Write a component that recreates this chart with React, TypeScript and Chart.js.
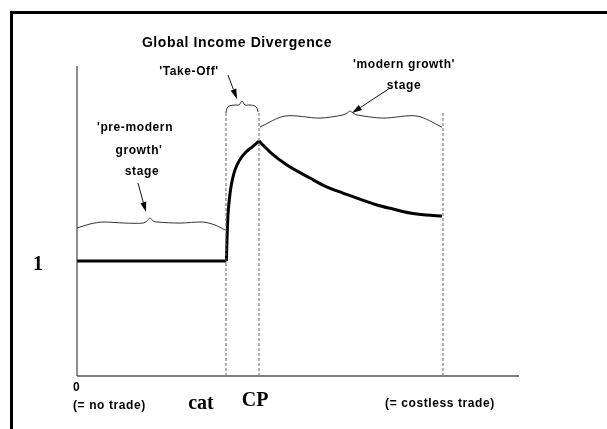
import React, { useEffect, useRef } from "react";
import { Chart, registerables } from "chart.js";

Chart.register(...registerables);

// ---------- data (schematic units: x = trade-cost openness 0..100, y = relative income, 1 = parity) ----------
const TITLE = "Global Income Divergence";
const X_MIN = 0;
const X_MAX = 100;
const Y_MIN = 0;
const Y_MAX = 2.696;

const CAT = 33.71;
const CP = 41.18;
const COSTLESS = 82.8;
const STAGE_TOP = 2.287;

const flatX = [0, 33.8];
const flatY = [1, 1];
const riseX = [33.8, 33.94, 34.16, 34.5, 34.95, 35.52, 36.2, 37.1, 38.24, 39.59, 41.18];
const riseY = [1, 1.183, 1.4, 1.548, 1.67, 1.765, 1.835, 1.896, 1.948, 1.991, 2.043];
const decayX = [41.18, 43.67, 47.51, 52.71, 56.11, 60.18, 67.87, 71.49, 75.34, 78.96, 82.58];
const decayY = [2.043, 1.948, 1.835, 1.722, 1.652, 1.591, 1.487, 1.452, 1.417, 1.4, 1.391];

const preBraceX = [0, 2.94, 5.88, 10.86, 14.93, 15.84, 16.52, 17.19, 18.1, 23.3, 28.51, 31.22, 33.48];
const preBraceY = [1.287, 1.322, 1.339, 1.33, 1.33, 1.348, 1.374, 1.348, 1.339, 1.33, 1.339, 1.313, 1.27];
const takeBraceX = [33.71, 33.94, 34.39, 35.75, 36.65, 37.33, 38.01, 39.14, 40.27, 40.72, 40.95];
const takeBraceY = [2.287, 2.33, 2.348, 2.357, 2.357, 2.391, 2.357, 2.357, 2.348, 2.33, 2.296];
const modBraceX = [41.4, 47.06, 54.98, 60.18, 61.09, 61.76, 62.44, 63.35, 69.23, 76.92, 82.58];
const modBraceY = [2.165, 2.261, 2.243, 2.27, 2.287, 2.304, 2.287, 2.27, 2.243, 2.261, 2.165];

// arrows: [fromX, fromY, toX, toY]
const ARROWS: number[][] = [
  [34.16, 2.617, 36.2, 2.409],
  [70.81, 2.504, 62.22, 2.287],
  [13.8, 1.678, 15.61, 1.426],
];

const TAKE_OFF_LABEL = ["'Take-Off'"];
const MODERN_LABEL = ["'modern growth'", "stage"];
const PRE_LABEL = ["'pre-modern", "growth'", "stage"];
const Y_TICK = "1";
const X_TICKS = ["0", "cat", "CP"];
const X_NOTES = ["(= no trade)", "(= costless trade)"];

const pts = (xs: number[], ys: number[]) => xs.map((x, i) => ({ x, y: ys[i] }));

const SANS = "'Liberation Sans', Arial, sans-serif";
const SERIF = "'Liberation Serif', 'Times New Roman', serif";

const decor = {
  id: "decor",
  beforeDraw(chart: any) {
    const { ctx, width, height } = chart;
    ctx.save();
    ctx.fillStyle = "#ffffff";
    ctx.fillRect(0, 0, width, height);
    ctx.fillStyle = "#000000";
    ctx.fillRect(10, 11, width - 10, 3);
    ctx.fillRect(10, 11, 3, height - 11);
    ctx.restore();
  },
  afterDatasetsDraw(chart: any) {
    const { ctx } = chart;
    const xs = chart.scales.x;
    const ys = chart.scales.y;
    ctx.save();
    // arrows
    ctx.strokeStyle = "#111";
    ctx.fillStyle = "#000";
    ctx.lineWidth = 1;
    for (const a of ARROWS) {
      const x1 = xs.getPixelForValue(a[0]);
      const y1 = ys.getPixelForValue(a[1]);
      const x2 = xs.getPixelForValue(a[2]);
      const y2 = ys.getPixelForValue(a[3]);
      const ang = Math.atan2(y2 - y1, x2 - x1);
      const L = 10;
      const W = 3;
      const bx = x2 - L * Math.cos(ang);
      const by = y2 - L * Math.sin(ang);
      ctx.beginPath();
      ctx.moveTo(x1, y1);
      ctx.lineTo(bx, by);
      ctx.stroke();
      ctx.beginPath();
      ctx.moveTo(x2, y2);
      ctx.lineTo(bx + W * Math.sin(ang), by - W * Math.cos(ang));
      ctx.lineTo(bx - W * Math.sin(ang), by + W * Math.cos(ang));
      ctx.closePath();
      ctx.fill();
    }
    // texts
    ctx.fillStyle = "#000";
    ctx.textBaseline = "middle";
    (ctx as any).letterSpacing = "0.6px";
    ctx.textAlign = "center";
    ctx.font = `bold 14px ${SANS}`;
    ctx.fillText(TITLE, 237, 43);
    ctx.font = `bold 12px ${SANS}`;
    ctx.fillText(TAKE_OFF_LABEL[0], 189, 72);
    ctx.fillText(MODERN_LABEL[0], 404, 65);
    ctx.fillText(MODERN_LABEL[1], 404, 86);
    ctx.fillText(PRE_LABEL[0], 135, 128);
    ctx.fillText(PRE_LABEL[1], 139, 151);
    ctx.fillText(PRE_LABEL[2], 142, 172);
    ctx.textAlign = "left";
    ctx.fillText(X_TICKS[0], 73, 388);
    ctx.fillText(X_NOTES[0], 73, 406);
    ctx.textAlign = "center";
    ctx.fillText(X_NOTES[1], xs.getPixelForValue(COSTLESS) - 3, 404);
    (ctx as any).letterSpacing = "0px";
    ctx.font = `bold 20px ${SERIF}`;
    ctx.fillText(X_TICKS[1], xs.getPixelForValue(CAT) - 25, 404);
    ctx.fillText(X_TICKS[2], xs.getPixelForValue(CP) - 4, 401);
    ctx.fillText(Y_TICK, 38, ys.getPixelForValue(1) + 4);
    ctx.restore();
  },
};

export default function App() {
  const ref = useRef<HTMLCanvasElement | null>(null);
  useEffect(() => {
    if (!ref.current) return;
    const thin = { borderColor: "#333", borderWidth: 1, tension: 0.3 };
    const vline = (x: number) => ({
      data: [
        { x, y: 0 },
        { x, y: STAGE_TOP },
      ],
      borderColor: "#666",
      borderWidth: 1,
      borderDash: [3, 2],
    });
    const chart = new Chart(ref.current, {
      type: "line",
      data: {
        datasets: [
          { data: pts([X_MIN, X_MIN], [Y_MIN, Y_MAX]), borderColor: "#222", borderWidth: 1 },
          { data: pts([X_MIN, X_MAX], [Y_MIN, Y_MIN]), borderColor: "#808080", borderWidth: 2 },
          vline(CAT),
          vline(CP),
          vline(COSTLESS),
          { data: pts(preBraceX, preBraceY), ...thin },
          { data: pts(takeBraceX, takeBraceY), ...thin },
          { data: pts(modBraceX, modBraceY), ...thin },
          { data: pts(flatX, flatY), borderColor: "#000", borderWidth: 3 },
          { data: pts(riseX, riseY), borderColor: "#000", borderWidth: 3, cubicInterpolationMode: "monotone" },
          { data: pts(decayX, decayY), borderColor: "#000", borderWidth: 3, cubicInterpolationMode: "monotone" },
        ] as any,
      },
      options: {
        animation: false,
        responsive: false,
        devicePixelRatio: 1,
        layout: { padding: { left: 77, right: 88, top: 66, bottom: 53 } },
        datasets: { line: { pointRadius: 0, fill: false, clip: false as any, borderCapStyle: "butt" } } as any,
        plugins: { legend: { display: false }, tooltip: { enabled: false }, title: { display: false } },
        scales: {
          x: { type: "linear", min: X_MIN, max: X_MAX, display: false },
          y: { type: "linear", min: Y_MIN, max: Y_MAX, display: false },
        },
        events: [],
      },
      plugins: [decor],
    });
    return () => chart.destroy();
  }, []);
  return (
    <div style={{ position: "absolute", left: 0, top: 0, width: 607, height: 429 }}>
      <canvas ref={ref} width={607} height={429} style={{ display: "block" }} />
    </div>
  );
}
